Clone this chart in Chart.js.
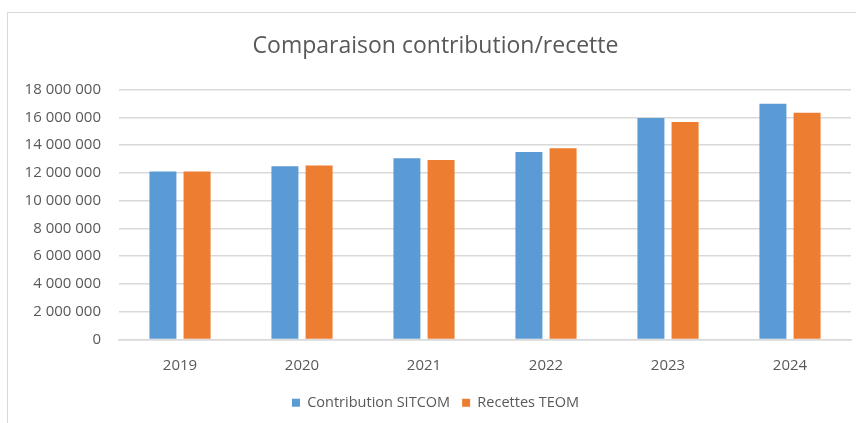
<!DOCTYPE html>
<html>
<head>
<meta charset="utf-8">
<script src="https://cdn.jsdelivr.net/npm/chart.js@4"></script>
<style>
    html, body { margin: 0; padding: 0; background: #fff; }
    #wrap { position: relative; width: 856px; height: 423px; overflow: hidden; }
    #frame { position: absolute; left: 7px; top: 12px; width: 900px; height: 500px; border: 1px solid #d9d9d9; }
    #chart { position: absolute; left: 0; top: 0; }
</style>
</head>
<body>
<div id="wrap">
    <div id="frame"></div>
    <canvas id="chart" width="856" height="423"></canvas>
</div>
<script>
// Données du graphique
const annees = ['2019', '2020', '2021', '2022', '2023', '2024'];
const contributionSitcom = [12100000, 12470000, 13050000, 13510000, 15960000, 16980000];
const recettesTeom = [12100000, 12540000, 12930000, 13780000, 15670000, 16330000];
const graduations = [0, 2000000, 4000000, 6000000, 8000000, 10000000, 12000000, 14000000, 16000000, 18000000];

const police = "'Open Sans', 'Liberation Sans', sans-serif";
const gris = '#595959';

function formatNombre(v) {
    return String(v).replace(/\B(?=(\d{3})+(?!\d))/g, ' ');
}

const ctx = document.getElementById('chart').getContext('2d');

const chart = new Chart(ctx, {
    type: 'bar',
    data: {
        labels: annees,
        datasets: [{
            label: 'Contribution SITCOM',
            data: contributionSitcom,
            backgroundColor: '#5B9BD5'
        }, {
            label: 'Recettes TEOM',
            data: recettesTeom,
            backgroundColor: '#ED7D31'
        }]
    },
    options: {
        responsive: false,
        animation: false,
        categoryPercentage: 0.56,
        barPercentage: 0.79,
        layout: {
            padding: { left: 20, right: 5, top: 0, bottom: 3 }
        },
        plugins: {
            title: {
                display: true,
                text: 'Comparaison contribution/recette',
                color: gris,
                font: { family: police, size: 23, weight: 'normal', lineHeight: 1.2 },
                padding: { top: 33, bottom: 29 }
            },
            legend: {
                position: 'bottom',
                labels: {
                    color: gris,
                    font: { family: police, size: 14.5 },
                    boxWidth: 8,
                    boxHeight: 8,
                    padding: 12
                }
            },
            tooltip: { enabled: false }
        },
        scales: {
            x: {
                grid: { display: false },
                border: { color: '#d9d9d9', width: 1.5 },
                ticks: {
                    color: gris,
                    font: { family: police, size: 15 },
                    padding: 9
                }
            },
            y: {
                min: 0,
                max: 18000000,
                afterBuildTicks: (axis) => {
                    axis.ticks = graduations.map(v => ({ value: v }));
                },
                afterFit: (axis) => {
                    axis.width = 99;
                },
                grid: { color: '#d9d9d9', lineWidth: 1.5, drawTicks: false },
                border: { display: false },
                ticks: {
                    color: gris,
                    font: { family: police, size: 15 },
                    padding: 18,
                    callback: (v) => formatNombre(v)
                }
            }
        }
    }
});
</script>
</body>
</html>
